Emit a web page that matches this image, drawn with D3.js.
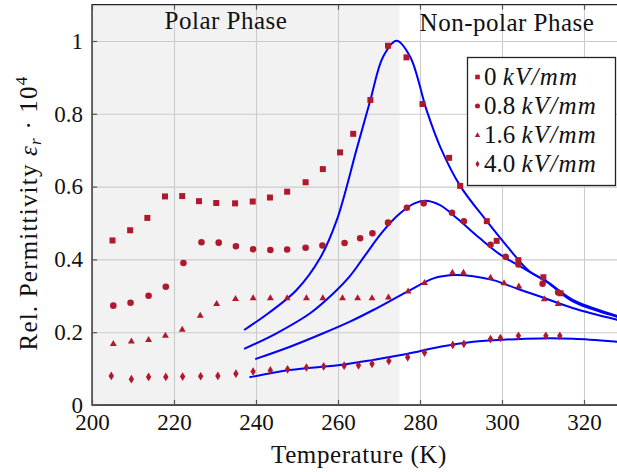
<!DOCTYPE html>
<html>
<head>
<meta charset="utf-8">
<script src="https://cdn.jsdelivr.net/npm/d3@7"></script>
<style>
  body { margin: 0; background: #fff; }
  svg { display: block; font-family: "Liberation Serif", "DejaVu Serif", serif; }
</style>
</head>
<body>
<svg id="chart"></svg>
<script>
// measured points (temperature in K, rel. permittivity / 1e4)
const tempSq = [205, 209.3, 213.5, 217.8, 222, 226.1, 230.3, 234.9, 239.2, 243.4, 247.6, 252.1, 256.3, 260.5, 263.7, 267.9, 272.2, 276.7, 280.6, 287.1, 289.8, 296.3, 298.7, 304, 310.1, 314.3];
const epsSq = [0.452, 0.480, 0.514, 0.573, 0.574, 0.560, 0.555, 0.554, 0.559, 0.570, 0.586, 0.612, 0.648, 0.694, 0.745, 0.838, 0.987, 0.955, 0.827, 0.679, 0.602, 0.505, 0.451, 0.398, 0.351, 0.307];

const tempCi = [205.2, 209.4, 213.8, 218, 222.3, 226.7, 230.9, 235.1, 239.3, 243.5, 247.6, 252.1, 256.2, 261.6, 265.4, 268.4, 272.2, 276.8, 280.9, 287.8, 290.7, 297.2, 300.9, 304, 309.9, 313.7];
const epsCi = [0.273, 0.281, 0.300, 0.325, 0.390, 0.447, 0.446, 0.436, 0.428, 0.426, 0.427, 0.432, 0.438, 0.445, 0.458, 0.472, 0.501, 0.542, 0.554, 0.528, 0.505, 0.440, 0.407, 0.386, 0.333, 0.309];

const tempTr = [205.2, 209.6, 213.8, 217.9, 222, 226.4, 230.4, 235, 239.3, 243.5, 247.6, 252.3, 256.3, 261.1, 264.8, 268.3, 272.3, 277.1, 281.1, 287.9, 290.6, 297.2, 300.5, 304.1, 310.3, 313.7];
const epsTr = [0.169, 0.176, 0.180, 0.192, 0.208, 0.247, 0.279, 0.293, 0.295, 0.295, 0.295, 0.295, 0.295, 0.295, 0.295, 0.295, 0.297, 0.313, 0.337, 0.365, 0.365, 0.351, 0.336, 0.327, 0.292, 0.279];

const tempDi = [204.7, 209.6, 213.8, 218, 222.1, 226.5, 230.7, 235.1, 239.3, 243.5, 247.7, 252.3, 256.5, 261.5, 265, 268.3, 272.4, 277, 281.1, 288, 290.7, 297.2, 299.6, 304, 310.7, 314.1];
const epsDi = [0.080, 0.071, 0.077, 0.077, 0.078, 0.079, 0.080, 0.086, 0.092, 0.095, 0.098, 0.103, 0.106, 0.108, 0.109, 0.113, 0.121, 0.131, 0.144, 0.165, 0.168, 0.181, 0.184, 0.190, 0.190, 0.190];

// fitted curves
const fit0T = [237.1, 243, 249.9, 255.6, 259.7, 264.6, 267.9, 271, 274.3, 277.6, 281.6, 284.9, 289.8, 296.3, 301.1, 306.8, 310.9, 317.4, 328, 330];
const fit0E = [0.206, 0.252, 0.316, 0.403, 0.508, 0.705, 0.838, 0.957, 1.001, 0.957, 0.810, 0.710, 0.602, 0.505, 0.438, 0.366, 0.340, 0.288, 0.245, 0.238];

const fit1T = [237.1, 245, 253.2, 258.9, 262.9, 266.6, 270.6, 274.6, 278.5, 281.2, 284.9, 289, 294.6, 299.5, 305.2, 310.9, 317.4, 328, 330];
const fit1E = [0.154, 0.197, 0.252, 0.307, 0.354, 0.411, 0.472, 0.521, 0.553, 0.561, 0.549, 0.513, 0.458, 0.414, 0.376, 0.338, 0.284, 0.242, 0.235];

const fit2T = [239.8, 248.3, 256.4, 262.9, 268.6, 276.8, 283.3, 288.1, 293, 297.9, 303.6, 309.3, 317.4, 328, 330];
const fit2E = [0.126, 0.160, 0.197, 0.229, 0.261, 0.311, 0.348, 0.357, 0.354, 0.343, 0.320, 0.298, 0.266, 0.234, 0.228];

const fit3T = [238.4, 248.3, 260.5, 268.6, 276.8, 284.9, 293, 301.1, 309.3, 317.4, 328, 330];
const fit3E = [0.076, 0.096, 0.110, 0.124, 0.140, 0.160, 0.174, 0.180, 0.183, 0.182, 0.174, 0.172];

const xTicks = [200, 220, 240, 260, 280, 300, 320];
const yTicks = [0, 0.2, 0.4, 0.6, 0.8, 1];
const legendLabels = ["0", "0.8", "1.6", "4.0"];
const phaseBorder = 275;

const width = 617;
const height = 472;
const markColor = "#b0182b";
const textColor = "#111";

const svg = d3.select("#chart")
  .attr("width", width)
  .attr("height", height);

const x = d3.scaleLinear().domain([200, 330]).range([92, 625]);
const y = d3.scaleLinear().domain([0, 1.1]).range([405, 4.6]);

// polar phase shading
svg.append("rect")
  .attr("x", x(200))
  .attr("y", y(1.1))
  .attr("width", x(phaseBorder) - x(200))
  .attr("height", y(0) - y(1.1))
  .attr("fill", "#f2f2f2");

// grid lines
const gridX = svg.append("g")
  .attr("transform", `translate(0,${y(0)})`)
  .call(d3.axisBottom(x).tickValues(xTicks).tickSize(-(y(0) - y(1.1))).tickFormat(""));
const gridY = svg.append("g")
  .attr("transform", `translate(${x(200)},0)`)
  .call(d3.axisLeft(y).tickValues(yTicks).tickSize(-(x(330) - x(200))).tickFormat(""));
[gridX, gridY].forEach(g => {
  g.select(".domain").remove();
  g.selectAll("line").attr("stroke", "#cbcbcb").attr("stroke-width", 1.1);
});

// fitted curves
const line = d3.line()
  .x(d => x(d[0]))
  .y(d => y(d[1]))
  .curve(d3.curveCatmullRom.alpha(0.5));

const fits = [[fit0T, fit0E], [fit1T, fit1E], [fit2T, fit2E], [fit3T, fit3E]];
svg.append("g").selectAll("path")
  .data(fits)
  .enter()
  .append("path")
  .attr("d", f => line(f[0].map((t, i) => [t, f[1][i]])))
  .attr("fill", "none")
  .attr("stroke", "#0000ff")
  .attr("stroke-width", 2);

// marker shapes
function markerPath(kind, s) {
  if (kind === 0) return `M${-s},${-s}H${s}V${s}H${-s}Z`;
  if (kind === 1) return d3.symbol(d3.symbolCircle, Math.PI * s * s * 1.2)();
  if (kind === 2) return `M0,${-s * 1.15}L${s * 1.15},${s * 0.85}L${-s * 1.15},${s * 0.85}Z`;
  return `M0,${-s * 1.45}L${s * 0.9},0L0,${s * 1.45}L${-s * 0.9},0Z`;
}

const series = [[tempSq, epsSq], [tempCi, epsCi], [tempTr, epsTr], [tempDi, epsDi]];
series.forEach((s, k) => {
  svg.append("g").selectAll("path")
    .data(s[0].map((t, i) => [t, s[1][i]]))
    .enter()
    .append("path")
    .attr("d", markerPath(k, 3))
    .attr("transform", d => `translate(${x(d[0])},${y(d[1])})`)
    .attr("fill", markColor);
});

// frame
svg.append("path")
  .attr("d", `M${x(330)},${y(1.1)}H${x(200)}V${y(0)}H${x(330)}`)
  .attr("fill", "none")
  .attr("stroke", "#222")
  .attr("stroke-width", 1.3);

// inner tick marks
const tickLen = 5;
const tickBottom = svg.append("g")
  .attr("transform", `translate(0,${y(0)})`)
  .call(d3.axisBottom(x).tickValues(xTicks).tickSize(-tickLen).tickFormat(""));
const tickTop = svg.append("g")
  .attr("transform", `translate(0,${y(1.1)})`)
  .call(d3.axisTop(x).tickValues(xTicks).tickSize(-tickLen).tickFormat(""));
const tickLeft = svg.append("g")
  .attr("transform", `translate(${x(200)},0)`)
  .call(d3.axisLeft(y).tickValues(yTicks).tickSize(-tickLen).tickFormat(""));
[tickBottom, tickTop, tickLeft].forEach(g => {
  g.select(".domain").remove();
  g.selectAll("line").attr("stroke", "#555").attr("stroke-width", 1.2);
});

// tick labels
const labX = svg.append("g")
  .attr("transform", `translate(0,${y(0)})`)
  .call(d3.axisBottom(x).tickValues(xTicks).tickSize(0).tickPadding(9));
const labY = svg.append("g")
  .attr("transform", `translate(${x(200)},0)`)
  .call(d3.axisLeft(y).tickValues(yTicks).tickSize(0).tickPadding(9).tickFormat(d3.format("~g")));
[labX, labY].forEach(g => {
  g.select(".domain").remove();
  g.attr("font-family", null).attr("font-size", null);
  g.selectAll("text")
    .style("font-family", "'Liberation Serif', serif")
    .style("font-size", "23px")
    .attr("fill", textColor);
});

// axis titles
svg.append("text")
  .attr("x", 359)
  .attr("y", 463)
  .attr("text-anchor", "middle")
  .attr("font-size", 25)
  .attr("letter-spacing", 0.6)
  .attr("fill", textColor)
  .text("Temperature (K)");

const yTitle = svg.append("text")
  .attr("transform", "translate(37,213) rotate(-90)")
  .attr("text-anchor", "middle")
  .attr("font-size", 25)
  .attr("letter-spacing", 1.2)
  .attr("fill", textColor);
yTitle.append("tspan").text("Rel. Permittivity ");
yTitle.append("tspan").attr("font-style", "italic").text("ε");
yTitle.append("tspan").attr("font-style", "italic").attr("font-size", 17).attr("dy", 4).text("r");
yTitle.append("tspan").attr("dy", -4).text(" · 10");
yTitle.append("tspan").attr("font-size", 17).attr("dy", -10).text("4");

// phase labels
svg.append("text")
  .attr("x", 226)
  .attr("y", 29)
  .attr("text-anchor", "middle")
  .attr("font-size", 25)
  .attr("letter-spacing", 0.5)
  .attr("fill", textColor)
  .text("Polar Phase");
svg.append("text")
  .attr("x", 507)
  .attr("y", 31)
  .attr("text-anchor", "middle")
  .attr("font-size", 25)
  .attr("letter-spacing", 0.5)
  .attr("fill", textColor)
  .text("Non-polar Phase");

// legend
const legend = svg.append("g");
legend.append("rect")
  .attr("x", 467.5)
  .attr("y", 57.5)
  .attr("width", 148)
  .attr("height", 128)
  .attr("fill", "#fff")
  .attr("stroke", "#222")
  .attr("stroke-width", 1.3);

legendLabels.forEach((lab, k) => {
  const cy = 77 + k * 29;
  legend.append("path")
    .attr("d", markerPath(k, 2.3))
    .attr("transform", `translate(477.5,${cy})`)
    .attr("fill", markColor);
  const t = legend.append("text")
    .attr("x", 484)
    .attr("y", cy + 8)
    .attr("font-size", 25)
    .attr("fill", textColor);
  t.append("tspan").text(lab + " ");
  t.append("tspan").attr("font-style", "italic").attr("letter-spacing", 1.2).text("kV/mm");
});
</script>
</body>
</html>
